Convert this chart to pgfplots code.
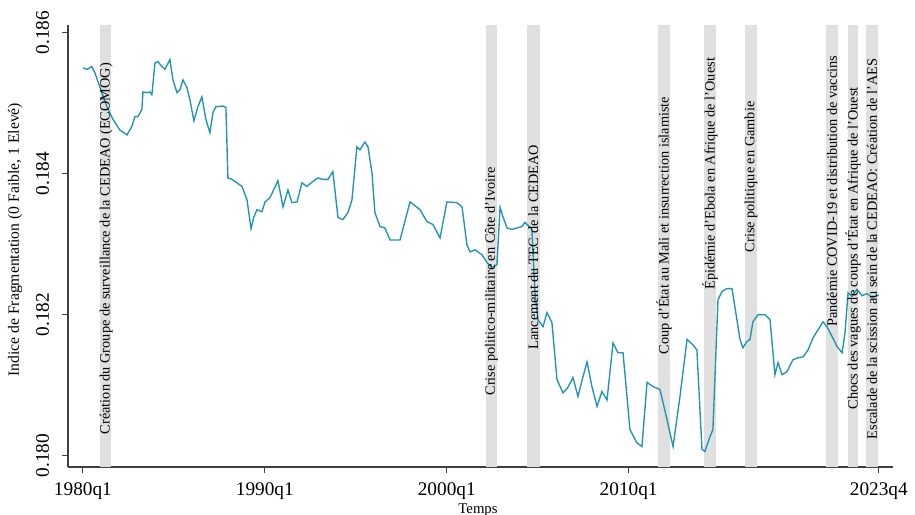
\documentclass[border=0pt]{standalone}
\usepackage{fontspec}
\setmainfont{Liberation Serif}
\usepackage{pgfplots}
\pgfplotsset{compat=1.18}
\definecolor{linec}{RGB}{30,150,175}
\definecolor{bandc}{RGB}{224,224,224}
\newcommand{\bandlo}{0.17984}
\newcommand{\bandhi}{0.18611}
\begin{document}
\begin{tikzpicture}
\path[use as bounding box] (-29.96pt,-21.15pt) rectangle (373.1pt,205.7pt);
\begin{axis}[
 scale only axis, width=363.4pt, height=194.7pt,
 xmin=1979.18, xmax=2024.53, ymin=0.17984, ymax=0.18611,
 axis x line*=bottom, axis y line*=left,
 axis line style={black!75, line width=0.5pt},
 tick style={black!75, line width=0.5pt}, tick align=outside, major tick length=2.5pt,
 xtick={1980,1990,2000,2010,2023.75},
 xticklabels={1980q1,1990q1,2000q1,2010q1,2023q4},
 ytick={0.180,0.182,0.184,0.186},
 scaled y ticks=false,
 ticklabel style={font=\fontsize{8.5}{10}\selectfont},
 yticklabel style={rotate=90, anchor=south, /pgf/number format/.cd, fixed, fixed zerofill, precision=3, assume math mode=true},
 yticklabel shift=2.3pt,
 xticklabel shift=1pt,
 xlabel={Temps}, ylabel={Indice de Fragmentation (0 Faible, 1 Elevé)},
 every axis x label/.style={at={(axis description cs:0.497,-0.097)}, anchor=center, font=\fontsize{6.5}{7}\selectfont},
 every axis y label/.style={at={(axis description cs:-0.064,0.514)}, rotate=90, anchor=center, font=\fontsize{6.9}{8}\selectfont},
 clip=true,
]
% event bands
\addplot[draw=none, fill=bandc] coordinates {(1980.93,\bandlo)(1980.93,\bandhi)(1981.54,\bandhi)(1981.54,\bandlo)} -- cycle;
\addplot[draw=none, fill=bandc] coordinates {(2002.16,\bandlo)(2002.16,\bandhi)(2002.76,\bandhi)(2002.76,\bandlo)} -- cycle;
\addplot[draw=none, fill=bandc] coordinates {(2004.41,\bandlo)(2004.41,\bandhi)(2005.12,\bandhi)(2005.12,\bandlo)} -- cycle;
\addplot[draw=none, fill=bandc] coordinates {(2011.61,\bandlo)(2011.61,\bandhi)(2012.27,\bandhi)(2012.27,\bandlo)} -- cycle;
\addplot[draw=none, fill=bandc] coordinates {(2014.14,\bandlo)(2014.14,\bandhi)(2014.80,\bandhi)(2014.80,\bandlo)} -- cycle;
\addplot[draw=none, fill=bandc] coordinates {(2016.39,\bandlo)(2016.39,\bandhi)(2017.05,\bandhi)(2017.05,\bandlo)} -- cycle;
\addplot[draw=none, fill=bandc] coordinates {(2020.85,\bandlo)(2020.85,\bandhi)(2021.51,\bandhi)(2021.51,\bandlo)} -- cycle;
\addplot[draw=none, fill=bandc] coordinates {(2022.06,\bandlo)(2022.06,\bandhi)(2022.60,\bandhi)(2022.60,\bandlo)} -- cycle;
\addplot[draw=none, fill=bandc] coordinates {(2023.05,\bandlo)(2023.05,\bandhi)(2023.71,\bandhi)(2023.71,\bandlo)} -- cycle;
% series
\addplot[linec, line width=0.6pt, mark=none] coordinates {
(1980.00,0.18550)(1980.22,0.18548)(1980.49,0.18552)(1980.66,0.18543)(1980.93,0.18523)
(1981.32,0.18495)(1981.65,0.18477)(1982.03,0.18462)(1982.42,0.18455)(1982.69,0.18467)
(1982.86,0.18481)(1983.02,0.18481)(1983.24,0.18491)(1983.30,0.18516)(1983.52,0.18515)
(1983.68,0.18516)(1983.79,0.18512)(1983.96,0.18557)(1984.12,0.18559)(1984.34,0.18552)
(1984.51,0.18548)(1984.78,0.18562)(1984.95,0.18533)(1985.17,0.18515)(1985.33,0.18519)
(1985.50,0.18533)(1985.72,0.18522)(1985.88,0.18505)(1986.10,0.18475)(1986.32,0.18495)
(1986.54,0.18509)(1986.76,0.18477)(1986.98,0.18458)(1987.15,0.18487)(1987.31,0.18495)
(1987.70,0.18496)(1987.86,0.18494)(1987.97,0.18394)(1988.19,0.18392)(1988.47,0.18387)
(1988.74,0.18382)(1989.02,0.18363)(1989.24,0.18322)(1989.40,0.18339)(1989.57,0.18349)
(1989.84,0.18346)(1990.01,0.18360)(1990.28,0.18366)(1990.72,0.18390)(1991.00,0.18353)
(1991.27,0.18377)(1991.49,0.18359)(1991.77,0.18360)(1992.04,0.18387)(1992.31,0.18382)
(1992.64,0.18389)(1992.92,0.18394)(1993.19,0.18392)(1993.47,0.18392)(1993.74,0.18403)
(1994.02,0.18338)(1994.29,0.18335)(1994.57,0.18345)(1994.79,0.18363)(1995.06,0.18438)
(1995.23,0.18434)(1995.50,0.18445)(1995.67,0.18438)(1995.89,0.18401)(1996.05,0.18345)
(1996.33,0.18325)(1996.60,0.18323)(1996.88,0.18306)(1997.43,0.18306)(1997.98,0.18360)
(1998.53,0.18349)(1998.91,0.18332)(1999.24,0.18328)(1999.63,0.18309)(2000.01,0.18360)
(2000.56,0.18359)(2000.84,0.18353)(2001.11,0.18299)(2001.28,0.18289)(2001.55,0.18292)
(2001.94,0.18285)(2002.21,0.18274)(2002.49,0.18267)(2002.76,0.18271)(2002.93,0.18352)
(2003.09,0.18339)(2003.31,0.18323)(2003.58,0.18321)(2003.86,0.18323)(2004.13,0.18325)
(2004.30,0.18331)(2004.68,0.18321)(2004.85,0.18231)(2005.01,0.18193)(2005.29,0.18183)
(2005.51,0.18203)(2005.78,0.18189)(2006.06,0.18108)(2006.39,0.18089)(2006.66,0.18097)
(2006.94,0.18111)(2007.21,0.18084)(2007.49,0.18112)(2007.71,0.18133)(2007.98,0.18098)
(2008.26,0.18070)(2008.53,0.18091)(2008.81,0.18079)(2009.14,0.18160)(2009.41,0.18146)
(2009.69,0.18146)(2010.07,0.18037)(2010.46,0.18018)(2010.73,0.18013)(2011.01,0.18104)
(2011.34,0.18098)(2011.72,0.18094)(2012.11,0.18051)(2012.44,0.18013)(2012.82,0.18084)
(2013.21,0.18165)(2013.54,0.18157)(2013.75,0.18150)(2014.03,0.18009)(2014.19,0.18006)
(2014.47,0.18027)(2014.63,0.18037)(2014.91,0.18221)(2015.13,0.18233)(2015.40,0.18237)
(2015.68,0.18237)(2015.84,0.18211)(2016.12,0.18165)(2016.28,0.18153)(2016.50,0.18162)
(2016.67,0.18165)(2016.83,0.18190)(2017.11,0.18200)(2017.49,0.18200)(2017.77,0.18193)
(2018.04,0.18115)(2018.21,0.18132)(2018.43,0.18115)(2018.70,0.18119)(2019.03,0.18136)
(2019.31,0.18139)(2019.58,0.18140)(2019.86,0.18150)(2020.13,0.18167)(2020.52,0.18183)
(2020.68,0.18190)(2020.90,0.18183)(2021.18,0.18169)(2021.45,0.18155)(2021.73,0.18146)
(2021.89,0.18174)(2022.06,0.18231)(2022.28,0.18226)(2022.55,0.18236)(2022.83,0.18227)
(2023.10,0.18230)(2023.38,0.18224)(2023.75,0.18228)
};
% event labels
\tikzset{evt/.style={rotate=90, anchor=west, inner sep=0pt, font=\fontsize{6.3}{7}\selectfont}}
\node[evt] at (axis cs:1981.28,0.18030) {Création du Groupe de surveillance de la CEDEAO (ECOMOG)};
\node[evt] at (axis cs:2002.46,0.18085) {Crise politico-militaire en Côte d'Ivoire};
\node[evt] at (axis cs:2004.76,0.18150) {Lancement du TEC de la CEDEAO};
\node[evt] at (axis cs:2011.94,0.18143) {Coup d'État au Mali et insurrection islamiste};
\node[evt] at (axis cs:2014.47,0.18235) {Épidémie d'Ebola en Afrique de l'Ouest};
\node[evt] at (axis cs:2016.72,0.18288) {Crise politique en Gambie};
\node[evt] at (axis cs:2021.18,0.18182) {Pandémie COVID-19 et distribution de vaccins};
\node[evt] at (axis cs:2022.33,0.18065) {Chocs des vagues de coups d'État en Afrique de l'Ouest};
\node[evt] at (axis cs:2023.38,0.18023) {Escalade de la scission au sein de la CEDEAO: Création de l'AES};
\end{axis}
\end{tikzpicture}
\end{document}
